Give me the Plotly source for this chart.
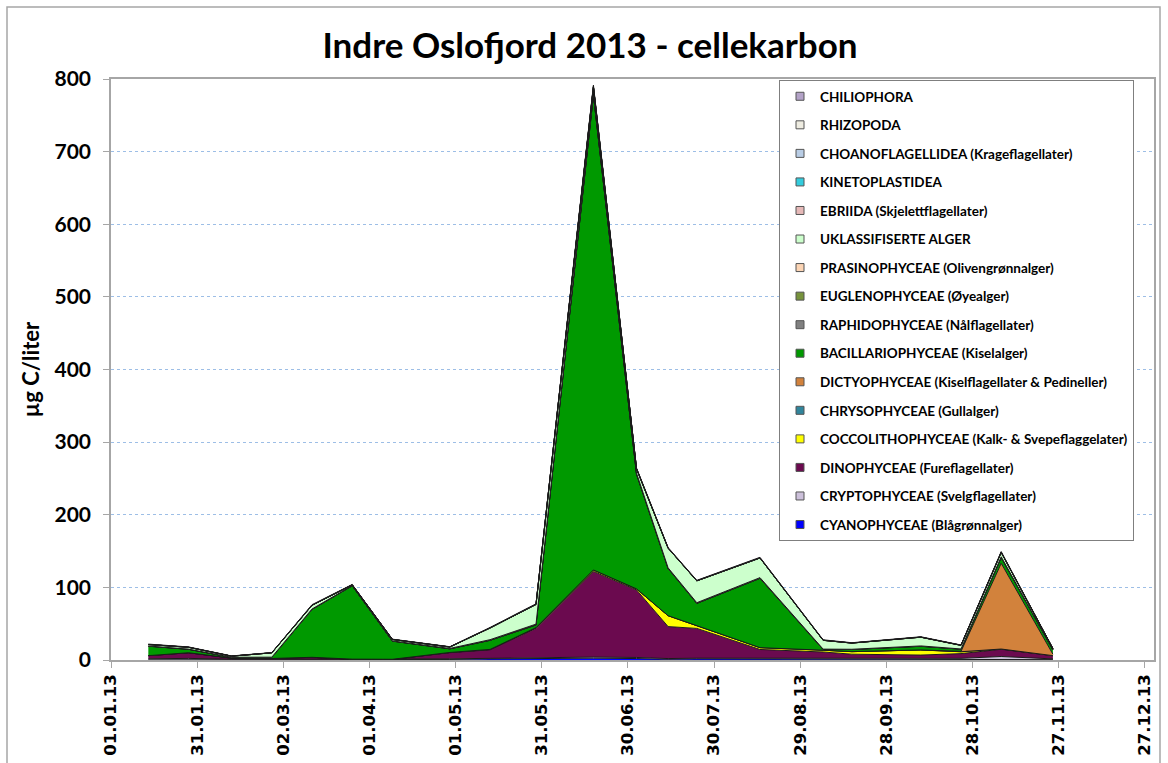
import plotly.graph_objects as go

# ---------------- data ----------------
dates = ["2013-01-14", "2013-01-28", "2013-02-12", "2013-02-26", "2013-03-12", "2013-03-26",
         "2013-04-09", "2013-04-29", "2013-05-13", "2013-05-29", "2013-06-18", "2013-07-03",
         "2013-07-14", "2013-07-24", "2013-08-15", "2013-09-06", "2013-09-16", "2013-10-10",
         "2013-10-24", "2013-11-07", "2013-11-25"]

cyanophyceae = [0.2, 0.2, 0.1, 0.1, 0.2, 0.2, 0.2, 0.8, 1.5, 2.0, 2.5, 2.0, 1.0, 1.5, 1.5, 1.0, 0.8, 0.8, 0.8, 0.8, 0.5]
cryptophyceae = [1.5, 2.0, 1.0, 1.0, 1.5, 0.5, 0.5, 0.8, 0.8, 1.0, 1.5, 1.5, 1.0, 1.0, 1.0, 1.5, 1.5, 2.0, 1.5, 4.0, 1.0]
dinophyceae = [4.3, 7.8, 1.5, 1.0, 2.0, 0.5, 0.3, 8.5, 11.7, 40.5, 118, 93, 44, 41, 12, 8.5, 5.7, 4.0, 6.5, 10, 4.5]
coccolithophyceae = [0, 0, 0, 0, 0, 0, 0, 0.3, 0.5, 1.0, 2.0, 1.5, 15, 4.0, 2.5, 2.5, 3.5, 7.0, 2.5, 0.3, 0]
chrysophyceae = [0, 0, 0, 0, 0, 0, 0, 0, 0.1, 0.1, 0, 0, 0, 0, 0, 0, 0, 0.1, 0.1, 0, 0]
dictyophyceae = [0, 0, 0, 0, 0, 0, 0, 0, 0, 0, 0, 0, 0, 0, 0, 0, 0, 0, 0.5, 118, 2.0]
bacillariophyceae = [13, 4.7, 1.0, 1.5, 66, 101, 25, 5.0, 12.5, 3.5, 654, 158, 65, 30.5, 95.5, 1.0, 3.0, 5.0, 3.0, 8.0, 6.0]
raphidophyceae = [0, 0, 0, 0, 0, 0, 0, 0, 0, 0.2, 0.3, 0.2, 0, 0, 0, 0, 0, 0, 0, 0, 0]
euglenophyceae = [0, 0, 0, 0, 0, 0, 0, 0, 0.1, 0.1, 0.2, 0.1, 0.1, 0.1, 0.1, 0, 0, 0, 0, 0, 0]
prasinophyceae = [0.3, 0.3, 0.2, 0.3, 0.5, 0.3, 0.3, 0.5, 0.8, 1.0, 1.5, 1.0, 0.8, 0.8, 0.8, 0.5, 0.3, 0.5, 0.3, 1.0, 0.2]
uklassifiserte = [2.0, 2.5, 1.5, 6.0, 5.0, 1.0, 2.0, 2.0, 16, 27, 9, 6, 27, 30, 27, 12, 8.5, 12, 5, 6, 1.5]
ebriida = [0, 0, 0, 0, 0.1, 0, 0, 0, 0.1, 0.1, 0.2, 0.1, 0.1, 0.1, 0.1, 0.1, 0, 0, 0, 0.1, 0]
kinetoplastidea = [0, 0, 0, 0, 0, 0, 0, 0, 0, 0, 0.1, 0, 0, 0, 0, 0, 0, 0, 0, 0, 0]
choanoflagellidea = [0.1, 0.1, 0, 0, 0.1, 0, 0, 0.1, 0.1, 0.1, 0.2, 0.1, 0.1, 0.1, 0.1, 0.1, 0.1, 0.1, 0.1, 0.1, 0]
rhizopoda = [0, 0, 0, 0, 0, 0, 0, 0, 0, 0, 0.1, 0, 0, 0, 0, 0, 0, 0, 0, 0, 0]
chiliophora = [0.5, 0.4, 0.3, 0.3, 0.8, 0.5, 0.4, 0.3, 0.6, 0.8, 2.0, 1.0, 0.8, 0.6, 0.8, 0.6, 0.4, 0.5, 0.4, 1.0, 0.3]

# stacking order: bottom -> top
series_names = [
    "CYANOPHYCEAE (Blågrønnalger)",
    "CRYPTOPHYCEAE (Svelgflagellater)",
    "DINOPHYCEAE (Fureflagellater)",
    "COCCOLITHOPHYCEAE (Kalk- & Svepeflaggelater)",
    "CHRYSOPHYCEAE (Gullalger)",
    "DICTYOPHYCEAE (Kiselflagellater & Pedineller)",
    "BACILLARIOPHYCEAE (Kiselalger)",
    "RAPHIDOPHYCEAE (Nålflagellater)",
    "EUGLENOPHYCEAE (Øyealger)",
    "PRASINOPHYCEAE (Olivengrønnalger)",
    "UKLASSIFISERTE ALGER",
    "EBRIIDA (Skjelettflagellater)",
    "KINETOPLASTIDEA",
    "CHOANOFLAGELLIDEA (Krageflagellater)",
    "RHIZOPODA",
    "CHILIOPHORA",
]
series_values = [cyanophyceae, cryptophyceae, dinophyceae, coccolithophyceae, chrysophyceae,
                 dictyophyceae, bacillariophyceae, raphidophyceae, euglenophyceae, prasinophyceae,
                 uklassifiserte, ebriida, kinetoplastidea, choanoflagellidea, rhizopoda, chiliophora]
series_colors = ["#0000FF", "#CCC0DA", "#6B0A4F", "#FFFF00", "#31859C", "#D2823C", "#009900",
                 "#808080", "#77933C", "#FCD5B5", "#CCFFCC", "#E6B9B8", "#33CCDD", "#B9CDE5",
                 "#EEECE1", "#B3A2C7"]

tick_dates = ["2013-01-01", "2013-01-31", "2013-03-02", "2013-04-01", "2013-05-01", "2013-05-31",
              "2013-06-30", "2013-07-30", "2013-08-29", "2013-09-28", "2013-10-28", "2013-11-27",
              "2013-12-27"]
tick_labels = ["01.01.13", "31.01.13", "02.03.13", "01.04.13", "01.05.13", "31.05.13", "30.06.13",
               "30.07.13", "29.08.13", "28.09.13", "28.10.13", "27.11.13", "27.12.13"]

# ---------------- figure ----------------
W, H = 1168, 763
L, R, T, B = 111, 1154, 79, 660  # plot area edges in px

fig = go.Figure()

for name, vals, col in zip(series_names, series_values, series_colors):
    fig.add_trace(go.Scatter(
        x=dates, y=vals, name=name, mode="lines", stackgroup="one",
        line=dict(color="#1a1a1a", width=1), fillcolor=col,
        showlegend=False, hoverinfo="x+y+name"))

# legend entries as small squares, top of the stack listed first
for name, col in reversed(list(zip(series_names, series_colors))):
    fig.add_trace(go.Scatter(
        x=[None], y=[None], name="<b>" + name + "</b>", mode="markers", legendgroup=name,
        marker=dict(symbol="square", size=8, color=col, line=dict(color="#555555", width=1)),
        showlegend=True))

def px_x(px):
    return (px - L) / (R - L)

def px_y(py):
    return (B - py) / (B - T)

# outer chart frame
fig.add_shape(type="rect", xref="paper", yref="paper",
              x0=px_x(7), x1=px_x(1160), y0=px_y(775), y1=px_y(7),
              line=dict(color="#A6A6A6", width=1.5), layer="below")

fig.update_layout(
    width=W, height=H,
    margin=dict(l=L, r=W - R, t=T, b=H - B, autoexpand=False),
    paper_bgcolor="white", plot_bgcolor="white",
    font=dict(family="Lato, 'Open Sans', sans-serif", color="black"),
    title=dict(text="<b>Indre Oslofjord 2013 - cellekarbon</b>",
               x=590 / W, xanchor="center", xref="container",
               y=1 - 46 / H, yanchor="middle", yref="container",
               font=dict(size=35, family="Lato, sans-serif", color="black")),
    legend=dict(
        x=px_x(779), y=px_y(80), xanchor="left", yanchor="top",
        bgcolor="white", bordercolor="#7F7F7F", borderwidth=1,
        traceorder="grouped", tracegroupgap=8,
        font=dict(size=13.5, family="Lato, sans-serif", color="black"),
        itemwidth=30,
    ),
    xaxis=dict(
        type="date", range=["2013-01-01", "2013-12-30 05:00"], automargin=False,
        tickmode="array", tickvals=tick_dates, ticktext=tick_labels,
        tickangle=-90, ticks="outside", ticklen=6, tickcolor="#A6A6A6",
        showline=True, linecolor="#A6A6A6", linewidth=1.5, mirror=True,
        showgrid=False, zeroline=False,
        tickfont=dict(family="DejaVu Sans, sans-serif", size=16.5, color="black", weight="bold"),
    ),
    yaxis=dict(
        range=[0, 800], dtick=100, tick0=0, automargin=False,
        ticks="outside", ticklen=6, tickcolor="#A6A6A6",
        showline=True, linecolor="#A6A6A6", linewidth=1.5, mirror=True,
        showgrid=True, gridcolor="#9DBEE6", griddash="dot", gridwidth=1,
        zeroline=False, ticklabelstandoff=8,
        tickfont=dict(family="Lato, sans-serif", size=21, color="black", weight="bold"),
        title=dict(text="<b>µg C/liter</b>", standoff=9,
                   font=dict(family="Lato, sans-serif", size=22, color="black")),
    ),
)

fig.write_html("out.html", config={"displayModeBar": False},
               post_script="document.body.style.margin='0';")
